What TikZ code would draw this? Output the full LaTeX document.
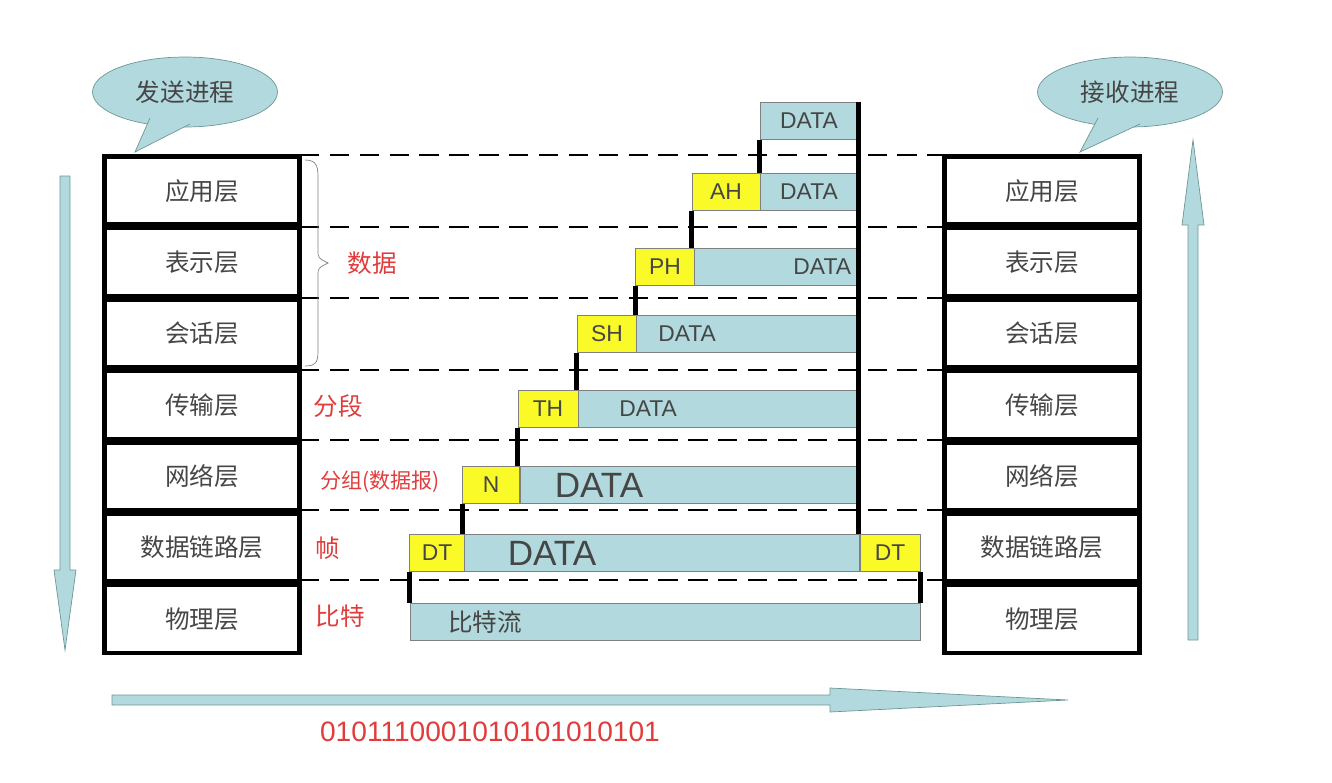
\documentclass[tikz,border=0pt]{standalone}
\usepackage{fontspec}
\setmainfont{Liberation Sans}
\newfontfamily\cjk{Noto Sans CJK SC}
\usetikzlibrary{positioning,shapes.geometric}
\definecolor{teal}{RGB}{178,218,222}
\definecolor{tealline}{RGB}{110,150,150}
\definecolor{yel}{RGB}{250,250,40}
\definecolor{redtxt}{RGB}{225,60,60}
\definecolor{graytxt}{RGB}{70,70,70}
\begin{document}
\begin{tikzpicture}[x=0.02cm, y=-0.02cm,
    layer/.style={rectangle, draw, line width=2.6pt, minimum width=3.9cm, minimum height=1.36cm, font=\cjk\fontsize{14}{14}\selectfont, text=graytxt},
    pkt/.style={rectangle, draw=gray, fill=teal, minimum height=0.74cm, font=\fontsize{13}{13}\selectfont, text=graytxt, inner sep=0pt},
    hdr/.style={rectangle, draw=gray, fill=yel, minimum height=0.74cm, font=\fontsize{13}{13}\selectfont, text=graytxt, inner sep=0pt},
    lbl/.style={font=\cjk\fontsize{14}{14}\selectfont, text=redtxt},
    link/.style={line width=3pt},
    level/.style={dashed, line width=1.4pt, dash pattern=on 11pt off 6pt}]

    \useasboundingbox (0,0) rectangle (1332,782);

    % callouts
    \node (sendc)[ellipse, draw=tealline, fill=teal, minimum width=3.7cm, minimum height=1.4cm, font=\cjk\fontsize{14}{14}\selectfont, text=graytxt] at (185,92) {发送进程};
    \node (recvc)[ellipse, draw=tealline, fill=teal, minimum width=3.7cm, minimum height=1.4cm, font=\cjk\fontsize{14}{14}\selectfont, text=graytxt] at (1130,92) {接收进程};
    \filldraw[draw=tealline, fill=teal] (150,118) -- (135,152) -- (190,124);
    \filldraw[draw=tealline, fill=teal] (1098,118) -- (1080,152) -- (1140,124);

    % dashed levels
    \foreach \y in {155,227,298,370,440,510,580}
        \draw[level] (300,\y) -- (945,\y);

    % layer stacks
    \foreach \n/\t [count=\i] in {app/应用层, pre/表示层, ses/会话层, tra/传输层, net/网络层, dat/数据链路层, phy/物理层} {
        \node (L\n)[layer] at (202,{155+71.4*(\i-0.5)}) {\t};
        \node (R\n)[layer] at (1042,{155+71.4*(\i-0.5)}) {\t};
    }

    % packets
    \node (d7)[pkt, minimum width=1.96cm] at (809,121) {DATA};
    \node (h6)[hdr, minimum width=1.36cm] at (726,192) {AH};
    \node (d6)[pkt, minimum width=1.96cm] at (809,192) {DATA};
    \node (h5)[hdr, minimum width=1.18cm] at (665,267) {PH};
    \node (d5)[pkt, minimum width=3.26cm, align=right, text width=3.0cm] at (776,267) {DATA};
    \node (h4)[hdr, minimum width=1.2cm] at (607,334) {SH};
    \node (d4)[pkt, minimum width=4.42cm] at (747,334) {\hspace*{-2.4cm}DATA};
    \node (h3)[hdr, minimum width=1.2cm] at (548,409) {TH};
    \node (d3)[pkt, minimum width=5.6cm] at (718,409) {\hspace*{-2.8cm}DATA};
    \node (h2)[hdr, minimum width=1.14cm] at (491,485) {N};
    \node (d2)[pkt, minimum width=6.76cm, font=\fontsize{20}{20}\selectfont] at (689,485) {\hspace*{-3.6cm}DATA};
    \node (h1)[hdr, minimum width=1.1cm] at (437,553) {DT};
    \node (d1)[pkt, minimum width=7.9cm, font=\fontsize{20}{20}\selectfont] at (662,553) {\hspace*{-4.4cm}DATA};
    \node (t1)[hdr, minimum width=1.2cm] at (890,553) {DT};
    \node (bits)[pkt, minimum width=10.2cm, font=\cjk\fontsize{14}{14}\selectfont] at (665,622) {\hspace*{-7.2cm}比特流};

    % encapsulation links
    \draw[link] (d7.south west) -- (d7.south west |- h6.north);
    \draw[link] (h6.south west) -- (h6.south west |- h5.north);
    \draw[link] (h5.south west) -- (h5.south west |- h4.north);
    \draw[link] (h4.south west) -- (h4.south west |- h3.north);
    \draw[link] (h3.south west) -- (h3.south west |- h2.north);
    \draw[link] (h2.south west) -- (h2.south west |- h1.north);
    \draw[link] (h1.south west) -- (h1.south west |- bits.north);
    \draw[link] (t1.south east) -- (t1.south east |- bits.north);
    \draw[link] (d7.north east) -- (d7.north east |- t1.north);

    % labels
    \draw[gray] (305,160) .. controls (318,160) and (318,168) .. (318,180) -- (318,250) .. controls (318,258) .. (328,263) .. controls (318,268) .. (318,276) -- (318,348) .. controls (318,360) and (318,366) .. (305,366);
    \node (lpre)[lbl] at (372,263) {数据};
    \node (ltra)[lbl] at (338,406) {分段};
    \node (lnet)[lbl, font=\cjk\fontsize{12}{12}\selectfont] at (380,482) {分组(数据报)};
    \node (ldat)[lbl] at (328,548) {帧};
    \node (lphy)[lbl] at (340,616) {比特};

    % direction arrows
    \filldraw[draw=tealline, fill=teal] (60,176) -- (70,176) -- (70,570) -- (76,570) -- (65,650) -- (54,570) -- (60,570) -- cycle;
    \filldraw[draw=tealline, fill=teal] (1188,640) -- (1198,640) -- (1198,225) -- (1204,225) -- (1193,140) -- (1182,225) -- (1188,225) -- cycle;
    \filldraw[draw=tealline, fill=teal] (112,695) -- (830,695) -- (830,688) -- (1068,700) -- (830,712) -- (830,705) -- (112,705) -- cycle;
    \node (bin)[text=redtxt, font=\fontsize{16}{16}\selectfont] at (490,732) {0101110001010101010101};
\end{tikzpicture}
\end{document}
